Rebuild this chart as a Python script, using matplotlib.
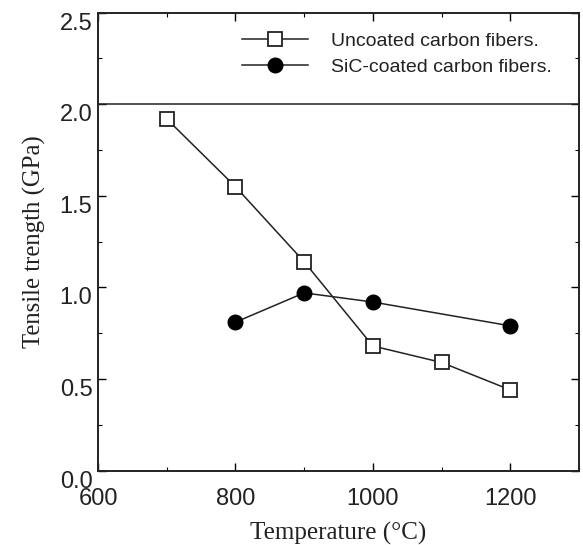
import matplotlib
matplotlib.use("Agg")
import matplotlib.pyplot as plt
from matplotlib.ticker import MultipleLocator

temp_uncoated = [700, 800, 900, 1000, 1100, 1200]
strength_uncoated = [1.92, 1.55, 1.14, 0.68, 0.59, 0.44]
temp_coated = [800, 900, 1000, 1200]
strength_coated = [0.81, 0.97, 0.92, 0.79]

label_uncoated = "Uncoated carbon fibers."
label_coated = "SiC-coated carbon fibers."

W, H = 583, 545
left, right, top, bottom = 98, 579, 12.7, 470.5
fig = plt.figure(figsize=(W / 100, H / 100), dpi=100)
ax = fig.add_axes([left / W, 1 - bottom / H, (right - left) / W, (bottom - top) / H])

ax.plot(temp_uncoated, strength_uncoated, color="#222222", lw=1.1, marker="s",
        markersize=10, markerfacecolor="white", markeredgecolor="#222222",
        markeredgewidth=1.3, label=label_uncoated)
ax.plot(temp_coated, strength_coated, color="#222222", lw=1.1, marker="o",
        markersize=10.5, markerfacecolor="black", markeredgecolor="black",
        label=label_coated)

ax.axhline(2.0, color="#222222", lw=1.1)

ax.set_xlim(600, 1300)
ax.set_ylim(0, 2.5)
ax.set_xticks([600, 800, 1000, 1200])
ax.set_yticks([0.0, 0.5, 1.0, 1.5, 2.0, 2.5])
ax.set_yticklabels(["0.0", "0.5", "1.0", "1.5", "2.0", "2.5"])
ax.xaxis.set_minor_locator(MultipleLocator(100))
ax.yaxis.set_minor_locator(MultipleLocator(0.25))
ax.tick_params(which="both", direction="in", top=True, right=True)
ax.tick_params(which="major", length=6, width=1.0, labelsize=17)
ax.tick_params(which="minor", length=3, width=0.8)
ax.tick_params(axis="x", which="major", pad=12.5)
ax.tick_params(axis="y", which="major", pad=4)
for lab in ax.get_xticklabels() + ax.get_yticklabels():
    lab.set_family("Liberation Sans")
    lab.set_color("#222222")
for lab in ax.get_yticklabels():
    lab.set_verticalalignment("top")

for s in ax.spines.values():
    s.set_linewidth(1.4)
    s.set_color("#222222")

ax.set_xlabel("Temperature (°C)", family="Liberation Serif", fontsize=18, color="#222222", labelpad=9)
ax.set_ylabel("Tensile trength (GPa)", family="Liberation Serif", fontsize=17.8, color="#222222", labelpad=10)

leg = ax.legend(loc="upper left", bbox_to_anchor=(0.299, 0.957), frameon=False,
                borderpad=0, borderaxespad=0,
                prop={"family": "Liberation Sans", "size": 14},
                handlelength=3.4, handletextpad=1.2, labelspacing=0.42)
for t in leg.get_texts():
    t.set_color("#222222")

fig.savefig("out.png", dpi=100)
